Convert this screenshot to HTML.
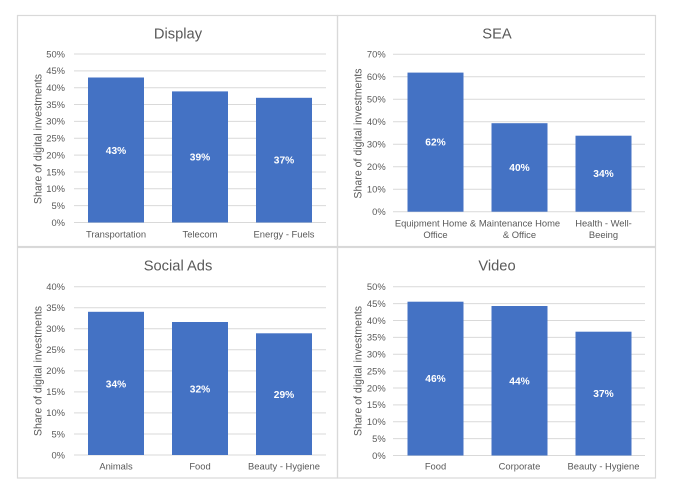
<!DOCTYPE html>
<html><head><meta charset="utf-8"><style>
html,body{margin:0;padding:0;background:#fff;}
svg{display:block;}
text{font-family:"Liberation Sans",Arial,sans-serif;}
.t{font-size:14.7px;fill:#595959;text-anchor:middle;}
.tk{font-size:9.4px;fill:#595959;text-anchor:end;}
.xl{font-size:9.4px;fill:#595959;text-anchor:middle;}
.yt{font-size:10.6px;fill:#595959;text-anchor:middle;}
.bl{font-size:10.2px;font-weight:bold;fill:#fff;text-anchor:middle;}
.g{stroke:#d9d9d9;stroke-width:1;}
.b{fill:#4472C4;}
.fr{fill:none;stroke:#d9d9d9;stroke-width:1.2;}
</style></head><body>
<svg width="679" height="494" viewBox="0 0 679 494" xmlns="http://www.w3.org/2000/svg">
<rect width="679" height="494" fill="#fff"/>
<!-- frames -->
<rect class="fr" x="17.5" y="15.5" width="320" height="231"/>
<rect class="fr" x="337.5" y="15.5" width="318" height="231"/>
<rect class="fr" x="17.5" y="247.5" width="320" height="230.5"/>
<rect class="fr" x="337.5" y="247.5" width="318" height="230.5"/>

<!-- ===== Display ===== -->
<text class="t" x="178" y="38.5">Display</text>
<g>
<line class="g" x1="74" x2="326" y1="222.5" y2="222.5"/>
<line class="g" x1="74" x2="326" y1="205.65" y2="205.65"/>
<line class="g" x1="74" x2="326" y1="188.8" y2="188.8"/>
<line class="g" x1="74" x2="326" y1="171.95" y2="171.95"/>
<line class="g" x1="74" x2="326" y1="155.1" y2="155.1"/>
<line class="g" x1="74" x2="326" y1="138.25" y2="138.25"/>
<line class="g" x1="74" x2="326" y1="121.4" y2="121.4"/>
<line class="g" x1="74" x2="326" y1="104.55" y2="104.55"/>
<line class="g" x1="74" x2="326" y1="87.7" y2="87.7"/>
<line class="g" x1="74" x2="326" y1="70.85" y2="70.85"/>
<line class="g" x1="74" x2="326" y1="54" y2="54"/>
</g>
<text class="tk" x="65" y="225.8">0%</text>
<text class="tk" x="65" y="208.95">5%</text>
<text class="tk" x="65" y="192.1">10%</text>
<text class="tk" x="65" y="175.25">15%</text>
<text class="tk" x="65" y="158.4">20%</text>
<text class="tk" x="65" y="141.55">25%</text>
<text class="tk" x="65" y="124.7">30%</text>
<text class="tk" x="65" y="107.85">35%</text>
<text class="tk" x="65" y="91">40%</text>
<text class="tk" x="65" y="74.15">45%</text>
<text class="tk" x="65" y="57.3">50%</text>
<rect class="b" x="88" y="77.5" width="56" height="145"/>
<rect class="b" x="172" y="91.4" width="56" height="131.1"/>
<rect class="b" x="256" y="97.8" width="56" height="124.7"/>
<text class="bl" x="116" y="154">43%</text>
<text class="bl" x="200" y="160.5">39%</text>
<text class="bl" x="284" y="163.5">37%</text>
<text class="xl" x="116" y="237.5">Transportation</text>
<text class="xl" x="200" y="237.5">Telecom</text>
<text class="xl" x="284" y="237.5">Energy - Fuels</text>
<text class="yt" transform="translate(41.5,139) rotate(-90)">Share of digital investments</text>

<!-- ===== SEA ===== -->
<text class="t" x="497" y="38.5">SEA</text>
<g>
<line class="g" x1="393" x2="645" y1="211.7" y2="211.7"/>
<line class="g" x1="393" x2="645" y1="189.2" y2="189.2"/>
<line class="g" x1="393" x2="645" y1="166.7" y2="166.7"/>
<line class="g" x1="393" x2="645" y1="144.2" y2="144.2"/>
<line class="g" x1="393" x2="645" y1="121.7" y2="121.7"/>
<line class="g" x1="393" x2="645" y1="99.2" y2="99.2"/>
<line class="g" x1="393" x2="645" y1="76.7" y2="76.7"/>
<line class="g" x1="393" x2="645" y1="54.2" y2="54.2"/>
</g>
<text class="tk" x="385.7" y="215">0%</text>
<text class="tk" x="385.7" y="192.5">10%</text>
<text class="tk" x="385.7" y="170">20%</text>
<text class="tk" x="385.7" y="147.5">30%</text>
<text class="tk" x="385.7" y="125">40%</text>
<text class="tk" x="385.7" y="102.5">50%</text>
<text class="tk" x="385.7" y="80">60%</text>
<text class="tk" x="385.7" y="57.5">70%</text>
<rect class="b" x="407.5" y="72.6" width="56" height="139.1"/>
<rect class="b" x="491.5" y="123.2" width="56" height="88.5"/>
<rect class="b" x="575.5" y="135.7" width="56" height="76"/>
<text class="bl" x="435.5" y="145.7">62%</text>
<text class="bl" x="519.5" y="171">40%</text>
<text class="bl" x="603.5" y="177.2">34%</text>
<text class="xl" x="435.5" y="226.5">Equipment Home &amp;</text>
<text class="xl" x="435.5" y="237.8">Office</text>
<text class="xl" x="519.5" y="226.5">Maintenance Home</text>
<text class="xl" x="519.5" y="237.8">&amp; Office</text>
<text class="xl" x="603.5" y="226.5">Health - Well-</text>
<text class="xl" x="603.5" y="237.8">Beeing</text>
<text class="yt" transform="translate(361.7,133.5) rotate(-90)">Share of digital investments</text>

<!-- ===== Social Ads ===== -->
<text class="t" x="178" y="270.5">Social Ads</text>
<g>
<line class="g" x1="74" x2="326" y1="455" y2="455"/>
<line class="g" x1="74" x2="326" y1="433.96" y2="433.96"/>
<line class="g" x1="74" x2="326" y1="412.92" y2="412.92"/>
<line class="g" x1="74" x2="326" y1="391.88" y2="391.88"/>
<line class="g" x1="74" x2="326" y1="370.84" y2="370.84"/>
<line class="g" x1="74" x2="326" y1="349.8" y2="349.8"/>
<line class="g" x1="74" x2="326" y1="328.76" y2="328.76"/>
<line class="g" x1="74" x2="326" y1="307.72" y2="307.72"/>
<line class="g" x1="74" x2="326" y1="286.7" y2="286.7"/>
</g>
<text class="tk" x="65" y="458.3">0%</text>
<text class="tk" x="65" y="437.26">5%</text>
<text class="tk" x="65" y="416.22">10%</text>
<text class="tk" x="65" y="395.18">15%</text>
<text class="tk" x="65" y="374.14">20%</text>
<text class="tk" x="65" y="353.1">25%</text>
<text class="tk" x="65" y="332.06">30%</text>
<text class="tk" x="65" y="311.02">35%</text>
<text class="tk" x="65" y="290">40%</text>
<rect class="b" x="88" y="311.8" width="56" height="143.2"/>
<rect class="b" x="172" y="322" width="56" height="133"/>
<rect class="b" x="256" y="333.3" width="56" height="121.7"/>
<text class="bl" x="116" y="387.5">34%</text>
<text class="bl" x="200" y="392.5">32%</text>
<text class="bl" x="284" y="398">29%</text>
<text class="xl" x="116" y="469.5">Animals</text>
<text class="xl" x="200" y="469.5">Food</text>
<text class="xl" x="284" y="469.5">Beauty - Hygiene</text>
<text class="yt" transform="translate(41.5,371) rotate(-90)">Share of digital investments</text>

<!-- ===== Video ===== -->
<text class="t" x="497" y="270.5">Video</text>
<g>
<line class="g" x1="393" x2="645" y1="455.5" y2="455.5"/>
<line class="g" x1="393" x2="645" y1="438.62" y2="438.62"/>
<line class="g" x1="393" x2="645" y1="421.74" y2="421.74"/>
<line class="g" x1="393" x2="645" y1="404.86" y2="404.86"/>
<line class="g" x1="393" x2="645" y1="387.98" y2="387.98"/>
<line class="g" x1="393" x2="645" y1="371.1" y2="371.1"/>
<line class="g" x1="393" x2="645" y1="354.22" y2="354.22"/>
<line class="g" x1="393" x2="645" y1="337.34" y2="337.34"/>
<line class="g" x1="393" x2="645" y1="320.46" y2="320.46"/>
<line class="g" x1="393" x2="645" y1="303.58" y2="303.58"/>
<line class="g" x1="393" x2="645" y1="286.7" y2="286.7"/>
</g>
<text class="tk" x="385.7" y="458.8">0%</text>
<text class="tk" x="385.7" y="441.92">5%</text>
<text class="tk" x="385.7" y="425.04">10%</text>
<text class="tk" x="385.7" y="408.16">15%</text>
<text class="tk" x="385.7" y="391.28">20%</text>
<text class="tk" x="385.7" y="374.4">25%</text>
<text class="tk" x="385.7" y="357.52">30%</text>
<text class="tk" x="385.7" y="340.64">35%</text>
<text class="tk" x="385.7" y="323.76">40%</text>
<text class="tk" x="385.7" y="306.88">45%</text>
<text class="tk" x="385.7" y="290">50%</text>
<rect class="b" x="407.5" y="301.7" width="56" height="153.8"/>
<rect class="b" x="491.5" y="306" width="56" height="149.5"/>
<rect class="b" x="575.5" y="331.7" width="56" height="123.8"/>
<text class="bl" x="435.5" y="382">46%</text>
<text class="bl" x="519.5" y="384.3">44%</text>
<text class="bl" x="603.5" y="397">37%</text>
<text class="xl" x="435.5" y="469.5">Food</text>
<text class="xl" x="519.5" y="469.5">Corporate</text>
<text class="xl" x="603.5" y="469.5">Beauty - Hygiene</text>
<text class="yt" transform="translate(361.7,371) rotate(-90)">Share of digital investments</text>
</svg>
</body></html>
